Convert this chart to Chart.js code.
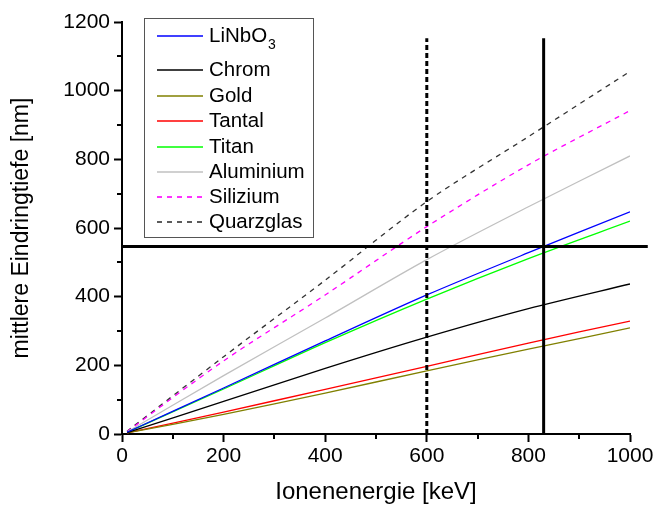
<!DOCTYPE html>
<html>
<head>
<meta charset="utf-8">
<script src="https://cdn.jsdelivr.net/npm/chart.js@4.4.1/dist/chart.umd.min.js"></script>
<style>
  html, body { margin: 0; padding: 0; background: #fff; }
  #wrap { width: 656px; height: 508px; }
</style>
</head>
<body>
<div id="wrap"><canvas id="depthCanvas" width="656" height="508"></canvas></div>
<script>
"use strict"

// Ion energy in keV
const energies = [10, 200, 400, 600, 800, 1000];

// mean penetration depth in nm
const linbo3 = [5, 134, 271, 405, 528, 647];
const chrom = [4, 95, 191, 282, 365, 437];
const gold = [3, 57, 119, 184, 247, 309];
const tantal = [3, 64, 130, 197, 265, 329];
const titan = [5, 131, 266, 393, 511, 620];
const aluminium = [6, 170, 338, 508, 662, 810];
const silizium = [7, 213, 405, 604, 784, 942];
const quarzglas = [8, 225, 448, 677, 866, 1056];

const seriesNames = ['LiNbO3', 'Chrom', 'Gold', 'Tantal', 'Titan', 'Aluminium', 'Silizium', 'Quarzglas'];

// marker lines
const markDepth = 546;
const markEnergy = 830;
const dashEnergy = 600;

const xTicksMinor = [100, 300, 500, 700, 900];
const yTicksMinor = [100, 300, 500, 700, 900, 1100];

const FONT = "'Liberation Sans', Arial, sans-serif";

function toPoints(vals) {
    return energies.map(function (e, i) { return { x: e, y: vals[i] }; });
}

function makeLine(name, vals, color, dash) {
    return {
        label: name,
        data: toPoints(vals),
        borderColor: color,
        backgroundColor: color,
        borderWidth: 1.3,
        borderDash: dash || [],
        pointRadius: 0,
        tension: 0.3,
        order: 5
    };
}

const dataLines = [
    makeLine(seriesNames[0], linbo3, '#0000ff'),
    makeLine(seriesNames[1], chrom, '#000000'),
    makeLine(seriesNames[2], gold, '#808000'),
    makeLine(seriesNames[3], tantal, '#ff0000'),
    makeLine(seriesNames[4], titan, '#00ff00'),
    makeLine(seriesNames[5], aluminium, '#c0c0c0'),
    makeLine(seriesNames[6], silizium, '#ff00ff', [5, 5]),
    makeLine(seriesNames[7], quarzglas, '#333333', [5, 5])
];

// the three thick marker lines
const refLines = [
    {
        label: 'h', isRef: true,
        data: [{ x: 0, y: markDepth }, { x: 1035, y: markDepth }],
        borderColor: '#000', borderWidth: 3, pointRadius: 0, clip: false, order: 1
    },
    {
        label: 'v', isRef: true,
        data: [{ x: markEnergy, y: 0 }, { x: markEnergy, y: 1153 }],
        borderColor: '#000', borderWidth: 3, pointRadius: 0, clip: false, order: 1
    },
    {
        label: 'vd', isRef: true,
        data: [{ x: dashEnergy, y: 0 }, { x: dashEnergy, y: 1153 }],
        borderColor: '#000', borderWidth: 3, borderDash: [5, 3], pointRadius: 0, clip: false, order: 1
    }
];

// minor ticks, pointing outwards like the major ones
const minorTicks = {
    id: 'minorTicks',
    afterDraw(chart) {
        const ctx = chart.ctx;
        const xs = chart.scales.x, ys = chart.scales.y;
        ctx.save();
        ctx.strokeStyle = '#000';
        ctx.lineWidth = 2;
        ctx.beginPath();
        xTicksMinor.forEach(function (v) {
            const px = Math.round(xs.getPixelForValue(v));
            ctx.moveTo(px, ys.bottom);
            ctx.lineTo(px, ys.bottom + 5);
        });
        yTicksMinor.forEach(function (v) {
            const py = Math.round(ys.getPixelForValue(v));
            ctx.moveTo(xs.left, py);
            ctx.lineTo(xs.left - 5, py);
        });
        ctx.stroke();
        ctx.restore();
    }
};

// legend box inside the plot
const legendBox = {
    id: 'legendBox',
    afterDraw(chart) {
        const ctx = chart.ctx;
        const rows = [36, 70, 96, 121, 147, 172, 197, 222];
        const bx = 144, by = 18, bw = 169, bh = 219;
        ctx.save();
        ctx.fillStyle = '#fff';
        ctx.fillRect(bx, by, bw, bh);
        ctx.strokeStyle = '#555';
        ctx.lineWidth = 1;
        ctx.strokeRect(bx + 0.5, by + 0.5, bw, bh);

        const items = chart.data.datasets.filter(function (d) { return !d.isRef; });
        items.forEach(function (ds, i) {
            const y = rows[i];
            ctx.beginPath();
            ctx.strokeStyle = ds.borderColor;
            ctx.lineWidth = 1.6;
            ctx.setLineDash(ds.borderDash || []);
            ctx.moveTo(157, y);
            ctx.lineTo(203, y);
            ctx.stroke();
            ctx.setLineDash([]);

            ctx.fillStyle = '#000';
            ctx.textBaseline = 'middle';
            ctx.font = '20.5px ' + FONT;
            if (ds.label === 'LiNbO3') {
                ctx.fillText('LiNbO', 209, y);
                const w = ctx.measureText('LiNbO').width;
                ctx.font = '14px ' + FONT;
                ctx.fillText('3', 209 + w + 1, y + 9);
            } else {
                ctx.fillText(ds.label, 209, y);
            }
        });
        ctx.restore();
    }
};

function plainTick(value) {
    return String(value);
}

const config = {
    type: 'line',
    data: {
        datasets: dataLines.concat(refLines)
    },
    options: {
        responsive: false,
        animation: false,
        events: [],
        layout: { padding: { left: 0, right: 26, top: 22, bottom: 0 } },
        plugins: {
            legend: { display: false },
            tooltip: { enabled: false }
        },
        scales: {
            x: {
                type: 'linear',
                min: 0,
                max: 1000,
                afterFit: function (scale) { scale.height = 74; },
                border: { display: true, width: 2, color: '#000' },
                grid: { drawOnChartArea: false, drawTicks: true, tickLength: 8, tickWidth: 2, tickColor: '#000' },
                ticks: { stepSize: 200, color: '#000', font: { family: FONT, size: 21 }, padding: 2, maxRotation: 0, callback: plainTick },
                title: { display: true, text: 'Ionenenergie [keV]', color: '#000', font: { family: FONT, size: 24 }, padding: { top: 0, bottom: 1 } }
            },
            y: {
                type: 'linear',
                min: 0,
                max: 1200,
                afterFit: function (scale) { scale.width = 122; },
                border: { display: true, width: 2, color: '#000' },
                grid: { drawOnChartArea: false, drawTicks: true, tickLength: 8, tickWidth: 2, tickColor: '#000' },
                ticks: { stepSize: 200, color: '#000', font: { family: FONT, size: 21 }, padding: 4, callback: plainTick },
                title: { display: true, text: 'mittlere Eindringtiefe [nm]', color: '#000', font: { family: FONT, size: 23 }, padding: { top: 8, bottom: 0 } }
            }
        }
    },
    plugins: [minorTicks, legendBox]
};

const depthChart = new Chart(document.getElementById('depthCanvas'), config);
</script>
</body>
</html>
